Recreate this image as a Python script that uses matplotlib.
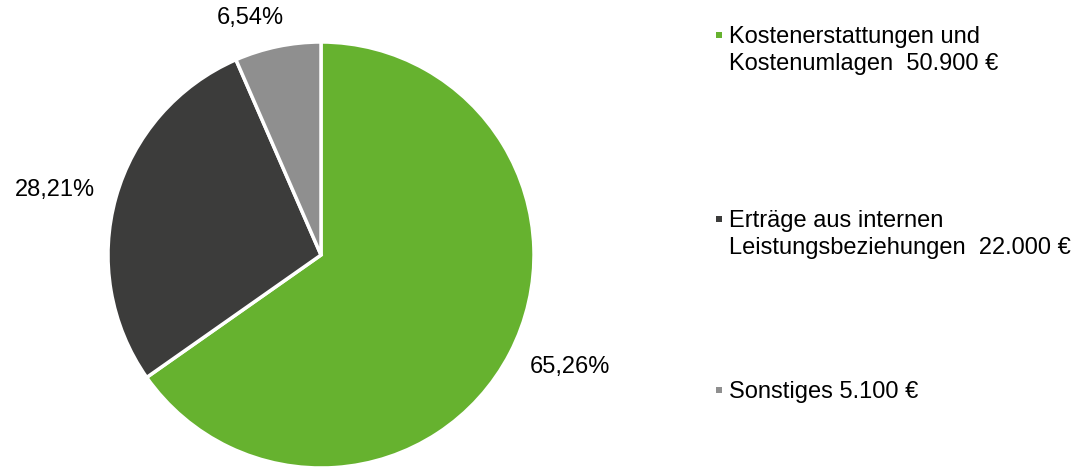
import matplotlib
matplotlib.use("Agg")
import matplotlib.pyplot as plt

plt.rcParams['font.family'] = ['Liberation Sans', 'DejaVu Sans']

categories = [["Kostenerstattungen und", "Kostenumlagen  50.900 €"],
              ["Erträge aus internen", "Leistungsbeziehungen  22.000 €"],
              ["Sonstiges 5.100 €"]]
values = [50900, 22000, 5100]
pct_labels = ["65,26%", "28,21%", "6,54%"]
colors = ["#66B22F", "#3C3C3B", "#8F8F8F"]

W, H = 1083, 467
fig = plt.figure(figsize=(W/100, H/100), dpi=100)
ax = fig.add_axes([0, 0, 1, 1])

cx, cy, r = 321, H - 255, 213
ax.pie(values, colors=colors, startangle=90, counterclock=False,
       center=(cx, cy), radius=r, frame=True,
       wedgeprops=dict(edgecolor='white', linewidth=2.5))
ax.set_xlim(0, W)
ax.set_ylim(0, H)
ax.set_aspect('equal')
ax.axis('off')

FS = 17
# percentage labels (pixel positions of the label centres)
label_pos = [(570, 367), (55, 190), (250, 18)]
for (x, y), t in zip(label_pos, pct_labels):
    ax.text(x, H - y, t, fontsize=FS, ha='center', va='center', color='#000000')

# legend (first-line baselines in pixels)
leg_base = [43, 227, 398]
line_gap = 27
for b, c, lines in zip(leg_base, colors, categories):
    ax.plot([719], [H - (b - 8)], marker='s', markersize=4.6, color=c,
            markeredgewidth=0, linestyle='none')
    for i, t in enumerate(lines):
        ax.text(729, H - (b + i * line_gap), t, fontsize=FS, ha='left',
                va='baseline', color='#000000')

fig.savefig("out.png", dpi=100)
